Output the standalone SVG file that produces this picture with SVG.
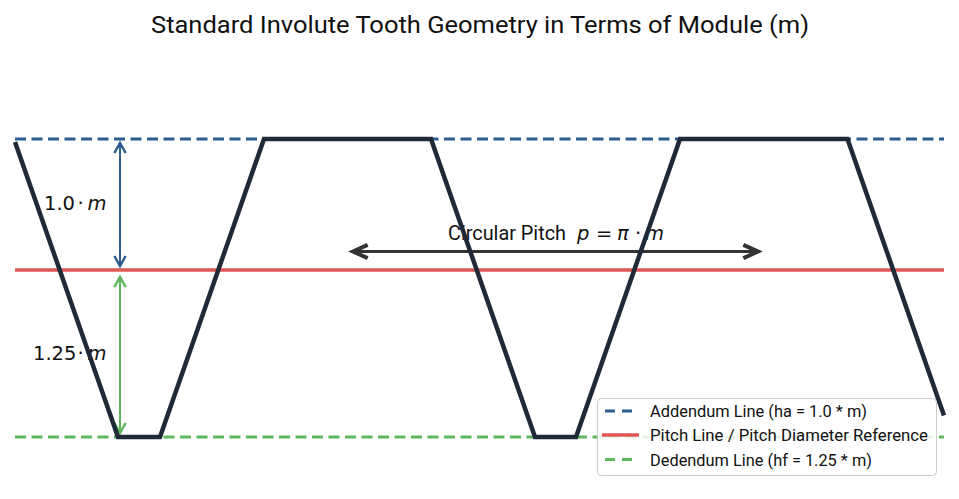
<svg xmlns="http://www.w3.org/2000/svg" width="959" height="499" viewBox="0 0 959 499">
<style>
.ttl{font-family:Roboto,"Liberation Sans",sans-serif;font-size:24px;fill:#111}
.lbl{font-family:Roboto,"Liberation Sans",sans-serif;font-size:20px;fill:#111}
.math{font-family:"DejaVu Sans",sans-serif;font-size:19.5px;fill:#111}
.it{font-style:italic}
.leg{font-family:Roboto,"Liberation Sans",sans-serif;font-size:16.5px;fill:#111}
.add{stroke:#2b5d92;stroke-width:2.8;stroke-dasharray:11 5.5;fill:none}
.pit{stroke:#e05656;stroke-width:3.5;fill:none}
.ded{stroke:#5cb85c;stroke-width:2.8;stroke-dasharray:11 5.5;fill:none}
</style>
<defs>
<marker id="hb" markerUnits="userSpaceOnUse" markerWidth="20" markerHeight="20" viewBox="-12 -8 16 16" refX="0" refY="0" orient="auto-start-reverse" overflow="visible">
<path d="M-8,-4.5 L0,0 L-8,4.5" fill="none" stroke="#2b5d92" stroke-width="2"/>
</marker>
<marker id="hg" markerUnits="userSpaceOnUse" markerWidth="20" markerHeight="20" viewBox="-12 -8 16 16" refX="0" refY="0" orient="auto-start-reverse" overflow="visible">
<path d="M-8,-4.5 L0,0 L-8,4.5" fill="none" stroke="#5cb85c" stroke-width="2"/>
</marker>
<marker id="hk" markerUnits="userSpaceOnUse" markerWidth="24" markerHeight="24" viewBox="-14 -8 18 16" refX="0" refY="0" orient="auto-start-reverse" overflow="visible">
<path d="M-11,-5 L0,0 L-11,5" fill="none" stroke="#333" stroke-width="3"/>
</marker>
</defs>
<rect width="959" height="499" fill="#fff"/>
<text class="ttl" x="480" y="33" text-anchor="middle" textLength="658" lengthAdjust="spacingAndGlyphs">Standard Involute Tooth Geometry in Terms of Module (m)</text>
<g id="reference-lines">
<line id="addendum" class="add" x1="15" y1="139" x2="944" y2="139"/>
<line id="pitch" class="pit" x1="15" y1="270" x2="944" y2="270"/>
<line id="dedendum" class="ded" x1="15" y1="437" x2="944" y2="437"/>
</g>
<g id="connectors">
<line x1="120" y1="143" x2="120" y2="266" stroke="#2b5d92" stroke-width="2" marker-start="url(#hb)" marker-end="url(#hb)"/>
<line x1="120" y1="277" x2="120" y2="433" stroke="#5cb85c" stroke-width="2" marker-start="url(#hg)" marker-end="url(#hg)"/>
<line x1="353" y1="251.5" x2="758" y2="251.5" stroke="#333" stroke-width="3" marker-start="url(#hk)" marker-end="url(#hk)"/>
</g>
<g id="labels">
<text class="math" y="210"><tspan x="44">1.0</tspan><tspan x="77.5">·</tspan><tspan class="it" x="87.5">m</tspan></text>
<text class="math" y="360"><tspan x="33">1.25</tspan><tspan x="77.5">·</tspan><tspan class="it" x="87.5">m</tspan></text>
<text class="lbl" x="448" y="240" textLength="118" lengthAdjust="spacingAndGlyphs">Circular Pitch</text>
<text class="math" y="240"><tspan class="it" x="577">p</tspan><tspan x="596">=</tspan><tspan class="it" x="617">π</tspan><tspan x="635">·</tspan><tspan class="it" x="645">m</tspan></text>
</g>
<g id="tooth-profile">
<polyline points="15,142 118,437 160,437 264,139 431,139 535,437 576,437 680,139 847.5,139 944,415.5" fill="none" stroke="#1f2937" stroke-width="4.5" stroke-linejoin="miter"/>
</g>
<g id="legend">
<rect x="597.5" y="398.5" width="339" height="77" rx="4" fill="#fff" fill-opacity="0.85" stroke="#cccccc" stroke-width="1"/>
<line x1="605" y1="411" x2="632" y2="411" stroke="#2b5d92" stroke-width="2.8" stroke-dasharray="10 7"/>
<text class="leg" x="650" y="417" textLength="217" lengthAdjust="spacingAndGlyphs">Addendum Line (ha = 1.0 * m)</text>
<line x1="602" y1="435" x2="639" y2="435" stroke="#e05656" stroke-width="3.5"/>
<text class="leg" x="650" y="441" textLength="278" lengthAdjust="spacingAndGlyphs">Pitch Line / Pitch Diameter Reference</text>
<line x1="605" y1="459.5" x2="632" y2="459.5" stroke="#5cb85c" stroke-width="2.8" stroke-dasharray="10 7"/>
<text class="leg" x="650" y="465.5" textLength="222" lengthAdjust="spacingAndGlyphs">Dedendum Line (hf = 1.25 * m)</text>
</g>
</svg>
